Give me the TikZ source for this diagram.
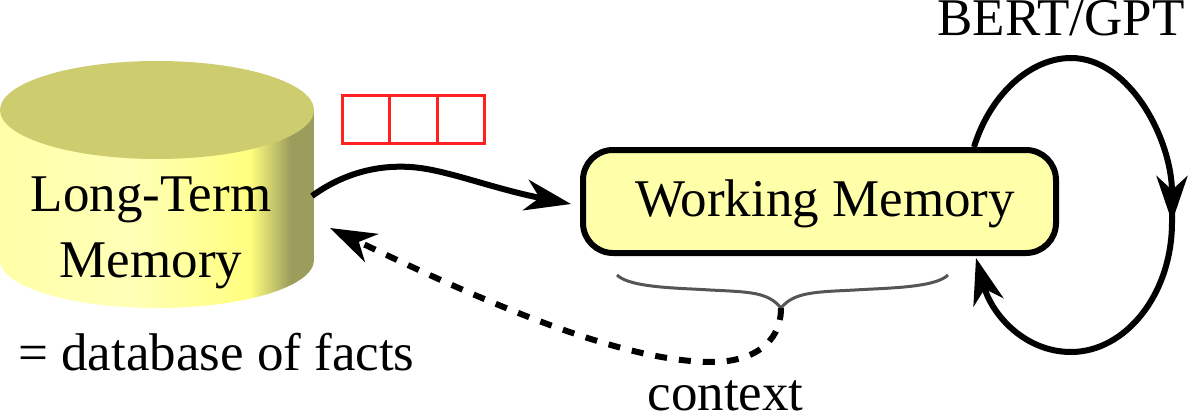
\documentclass[tikz,border=0pt]{standalone}
\usepackage{fontspec}
\setmainfont{Liberation Serif}
\usetikzlibrary{arrows.meta, positioning, calc, backgrounds}

\definecolor{ltmlight}{HTML}{FFFFB8}
\definecolor{ltmbright}{HTML}{FFFF80}
\definecolor{ltmdark}{HTML}{9C9C5C}
\definecolor{ltmtop}{HTML}{CDCD70}
\definecolor{wmfill}{HTML}{FFFFAA}
\definecolor{cellred}{HTML}{FF2020}
\definecolor{bracegray}{HTML}{555555}
\pgfdeclarehorizontalshading{ltmbody}{100bp}{
  color(0bp)=(ltmlight!70!ltmbright); color(25bp)=(ltmlight!70!ltmbright);
  color(45.7bp)=(ltmlight); color(64.8bp)=(ltmbright);
  color(71.3bp)=(ltmdark);
  color(75bp)=(ltmdark); color(100bp)=(ltmdark)}

\begin{document}
\begin{tikzpicture}[
    x=1pt, y=-1pt,
    word/.style={inner sep=0pt, align=center, font=\fontsize{53}{66}\selectfont},
    workbox/.style={rectangle, draw, fill=wmfill, line width=6pt, rounded corners=30pt, minimum width=473pt, minimum height=103pt, inner sep=0pt},
    cell/.style={rectangle, draw=cellred, line width=3pt, minimum width=47.5pt, minimum height=48pt, inner sep=0pt, outer sep=0pt},
    arrow/.style={-{Stealth[length=46pt, width=31pt, inset=14pt]}, line width=6pt},
    backarrow/.style={arrow, dash pattern=on 12pt off 12pt},
    curlyline/.style={draw=bracegray, line width=3pt},
]
\useasboundingbox (0,0) rectangle (1189,412);

\node[workbox] (wm) at (819.5,201.5) {};
\node[word, anchor=base] (wmtext) at (825,216) {Working Memory};

% self loop goes behind the box
\coordinate (loopright) at (1172,222);
\begin{scope}[on background layer]
\draw[arrow] ([xshift=-85pt]wm.north east) .. controls (990,95) and (1030,58) .. (1071,58)
    .. controls (1130,58) and (1172,140) .. (loopright);
\draw[arrow] ([yshift=20pt]loopright) -- (loopright) .. controls (1172,295) and (1125,352) .. (1071,352)
    .. controls (1025,352) and (992,315) .. ([xshift=-83pt,yshift=-2pt]wm.south east);
\end{scope}

% cylinder
\shade[shading=ltmbody] (0,110) -- (0,260) .. controls (0,286.5) and (70.3,308) .. (157,308)
    .. controls (243.7,308) and (314,286.5) .. (314,260) -- (314,110) -- cycle;
\fill[ltmtop] (157,110) ellipse [x radius=157, y radius=49];
\node[word] (ltm) at (151,233) {Long-Term\\Memory};
\coordinate (ltmout) at (312,196);
\coordinate (ltmin) at (330,228);

\node[word, anchor=base west] (facts) at (18,370) {= database of facts};
\node[word, anchor=base] (bert) at (1061,36) {BERT/GPT};
\node[word, anchor=base] (context) at (725.5,410) {context};

\node[cell] (cella) at (366,119.5) {};
\node[cell] (cellb) [right=0pt of cella] {};
\node[cell] (cellc) [right=0pt of cellb] {};

\draw[arrow] (ltmout) .. controls (345,172) and (380,165) .. (410,167)
    .. controls (445,169) and (490,188) .. ([xshift=-9pt,yshift=-2.5pt]wm.west);

% brace under the box
\coordinate (bracetip) at (781,308);
\draw[curlyline] (617,275) .. controls (630,288) and (680,288) .. (710,290)
    .. controls (750,292) and (768,292) .. (bracetip);
\draw[curlyline] (948,275) .. controls (935,288) and (885,288) .. (855,290)
    .. controls (815,292) and (794,292) .. (bracetip);
\draw[backarrow] (bracetip) .. controls (781,345) and (750,362) .. (712,362)
    .. controls (620,362) and (480,300) .. (ltmin);

\end{tikzpicture}
\end{document}
